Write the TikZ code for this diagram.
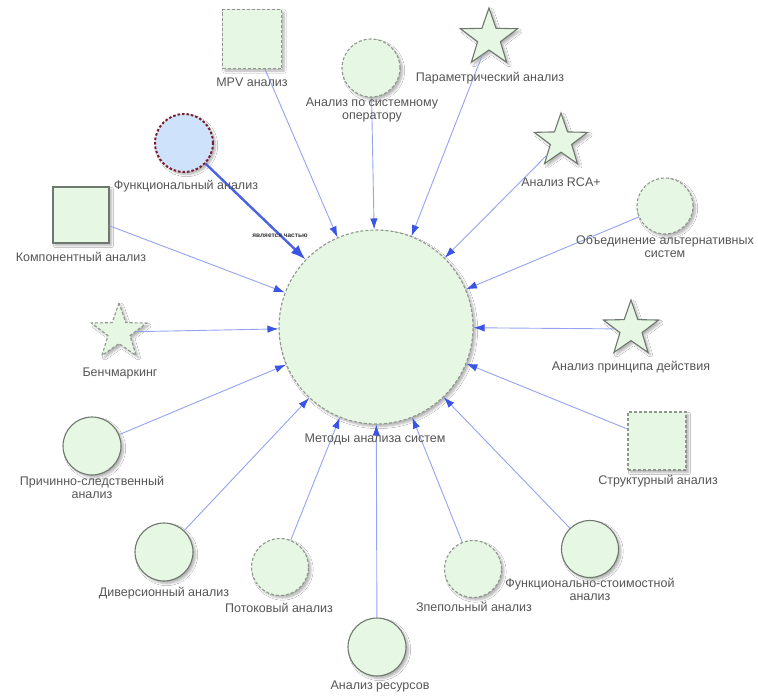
\documentclass[tikz,border=0pt]{standalone}
\usepackage{fontspec}
\setmainfont{Liberation Sans}
\usetikzlibrary{shapes.geometric,arrows.meta,shadows.blur}

\definecolor{nodefill}{HTML}{E6F7E3}
\definecolor{funcfill}{HTML}{CFE2FB}
\definecolor{funcline}{HTML}{7A1E2E}
\definecolor{solidline}{HTML}{6F786F}
\definecolor{dashline}{HTML}{8E968E}
\definecolor{edgeline}{HTML}{95A3F0}
\definecolor{edgestrong}{HTML}{4A63E0}
\definecolor{arrowblue}{HTML}{3A55E6}
\definecolor{txtgray}{HTML}{555555}

\tikzset{
  base/.style={fill=nodefill, inner sep=0pt, line width=1.1pt,
    blur shadow={shadow blur steps=6, shadow xshift=2.5pt, shadow yshift=-2.5pt, shadow opacity=30}},
  solidb/.style={draw=solidline},
  dashb/.style={draw=dashline, dash pattern=on 3pt off 2pt},
  circ/.style={base, circle, minimum size=#1},
  sq/.style={base, rectangle, minimum size=#1},
  starshape/.style={base, star, star points=5, star point ratio=2.5, minimum size=#1},
  lab/.style={font=\fontsize{12.5}{13}\selectfont, text=txtgray, inner sep=0pt, align=center},
  edge/.style={draw=edgeline, line width=0.9pt, -{Latex[length=11pt,width=7.5pt,color=arrowblue]}},
  strongedge/.style={draw=edgestrong, line width=2.4pt, -{Latex[length=15pt,width=11pt,color=arrowblue]}}
}

\begin{document}
\begin{tikzpicture}[x=1pt,y=-1pt]
\useasboundingbox (0,0) rectangle (758,696);
\fill[white] (0,0) rectangle (758,696);

% hub
\node[circ=194pt, dashb] (c) at (376,327) {};

% surrounding methods
\node[sq=59pt, dashb] (mpv) at (252,39) {};
\node[circ=58pt, dashb] (sysop) at (371,68) {};
\node[starshape=60pt, solidb] (param) at (489,38) {};
\node[circ=58pt, fill=funcfill, draw=funcline, line width=2pt, dash pattern=on 2.5pt off 2pt] (func) at (184,143) {};
\node[starshape=56pt, solidb] (rca) at (561,141) {};
\node[circ=56pt, dashb] (unite) at (665,206) {};
\node[sq=56pt, solidb] (comp) at (81,215) {};
\node[starshape=58pt, dashb] (bench) at (119,332) {};
\node[starshape=58pt, solidb] (princ) at (631,329) {};
\node[circ=58pt, solidb] (cause) at (92,446) {};
\node[sq=58pt, dashb] (struct) at (657,441) {};
\node[circ=58pt, solidb] (divers) at (164,552) {};
\node[circ=57pt, dashb] (flow) at (280,567) {};
\node[circ=58pt, solidb] (res) at (377,647) {};
\node[circ=57pt, dashb] (vepol) at (473,569) {};
\node[circ=57pt, solidb] (fsa) at (590,549) {};

% connectors
\draw[edge] (mpv) -- (c);
\draw[edge] (sysop) -- (c);
\draw[edge] (param) -- (c);
\draw[strongedge] (func) -- (c);
\draw[edge] (rca) -- (c);
\draw[edge] (unite) -- (c);
\draw[edge] (comp) -- (c);
\draw[edge] (bench) -- (c);
\draw[edge] (princ) -- (c);
\draw[edge] (cause) -- (c);
\draw[edge] (struct) -- (c);
\draw[edge] (divers) -- (c);
\draw[edge] (flow) -- (c);
\draw[edge] (res) -- (c);
\draw[edge] (vepol) -- (c);
\draw[edge] (fsa) -- (c);

\node[font=\fontsize{6.5}{7}\selectfont\bfseries, text=black!80, inner sep=0pt] (rel) at (280,236) {является частью};

% labels
\node[lab] (lc) at (375,439) {Методы анализа систем};
\node[lab] (lmpv) at (252,82) {MPV анализ};
\node[lab] (lsysop) at (372,110) {Анализ по системному\\оператору};
\node[lab] (lparam) at (490,78) {Параметрический анализ};
\node[lab] (lfunc) at (186,186) {Функциональный анализ};
\node[lab] (lrca) at (561,182) {Анализ RCA+};
\node[lab] (lunite) at (665,246.5) {Объединение альтернативных\\систем};
\node[lab] (lcomp) at (81,257) {Компонентный анализ};
\node[lab] (lbench) at (120,373) {Бенчмаркинг};
\node[lab] (lprinc) at (631,367) {Анализ принципа действия};
\node[lab] (lcause) at (92,487) {Причинно-следственный\\анализ};
\node[lab] (lstruct) at (658,481) {Структурный анализ};
\node[lab] (ldivers) at (164,593) {Диверсионный анализ};
\node[lab] (lflow) at (279,608) {Потоковый анализ};
\node[lab] (lres) at (380,686) {Анализ ресурсов};
\node[lab] (lvepol) at (474,607) {Зпепольный анализ};
\node[lab] (lfsa) at (590,589.5) {Функционально-стоимостной\\анализ};
\end{tikzpicture}
\end{document}
